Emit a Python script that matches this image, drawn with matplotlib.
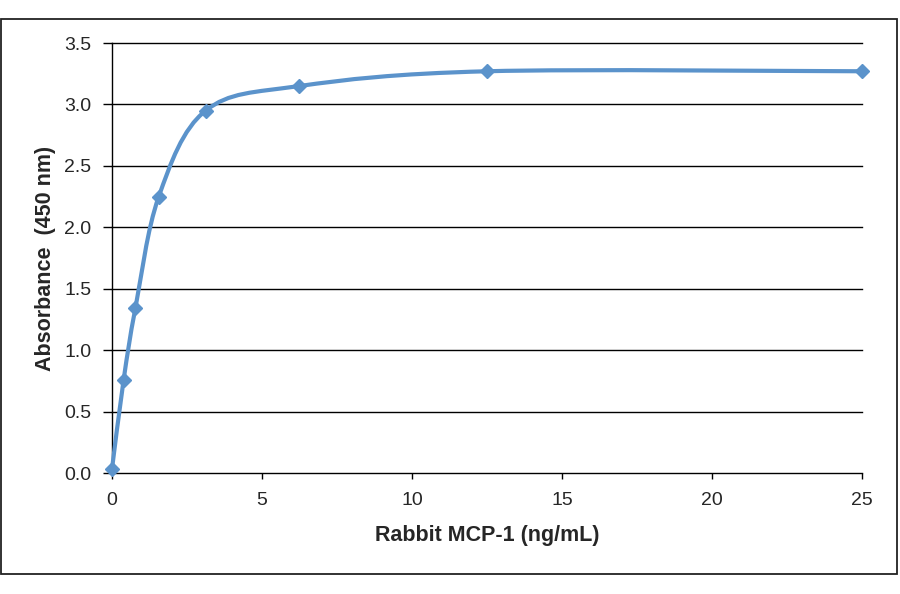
import numpy as np
import matplotlib
matplotlib.use("Agg")
import matplotlib.pyplot as plt
from matplotlib.path import Path
from matplotlib.patches import PathPatch, Rectangle

# Data
conc = [0.0, 0.39, 0.78, 1.56, 3.125, 6.25, 12.5, 25.0]
absorb = [0.03, 0.76, 1.34, 2.25, 2.95, 3.15, 3.27, 3.27]
xticks = [0, 5, 10, 15, 20, 25]
yticks = [0.0, 0.5, 1.0, 1.5, 2.0, 2.5, 3.0, 3.5]
xlabel = "Rabbit MCP-1 (ng/mL)"
ylabel = "Absorbance  (450 nm)"

LINE_COLOR = "#5B93CB"
TEXT_COLOR = "#262626"

plt.rcParams['font.family'] = ['Liberation Sans', 'DejaVu Sans']

fig = plt.figure(figsize=(9, 5.94), dpi=100)
# outer chart border
fig.patches.append(Rectangle((0.0015, 0.0337), 0.9955, 0.934, transform=fig.transFigure,
                             fill=False, edgecolor="#222222", linewidth=1.3))

ax = fig.add_axes([0.1244, 0.2037, 0.8334, 0.7239])
ax.set_xlim(0, 25)
ax.set_ylim(0, 3.5)

# horizontal gridlines
for yv in yticks:
    ax.axhline(yv, color="black", linewidth=1.0, zorder=1, clip_on=False)

# Excel-style smoothed line (cubic Bezier, Catmull-Rom control points)
pts = np.column_stack([conc, absorb])
n = len(pts)
verts = [tuple(pts[0])]
codes = [Path.MOVETO]
for i in range(n - 1):
    p0 = pts[i - 1] if i > 0 else pts[i]
    p1 = pts[i]
    p2 = pts[i + 1]
    p3 = pts[i + 2] if i + 2 < n else pts[i + 1]
    c1 = p1 + (p2 - p0) / 6.0
    c2 = p2 - (p3 - p1) / 6.0
    verts += [tuple(c1), tuple(c2), tuple(p2)]
    codes += [Path.CURVE4] * 3
ax.add_patch(PathPatch(Path(verts, codes), facecolor="none", edgecolor=LINE_COLOR,
                       linewidth=3.0, zorder=3, capstyle="round", joinstyle="round",
                       clip_on=False))
ax.plot(conc, absorb, linestyle="none", marker="D", markersize=7.5,
        color=LINE_COLOR, zorder=4, clip_on=False)

for s in ["top", "right", "bottom"]:
    ax.spines[s].set_visible(False)
ax.spines["left"].set_color("black")
ax.spines["left"].set_linewidth(1.0)

ax.set_xticks(xticks)
ax.set_yticks(yticks)
ax.set_yticklabels([f"{v:.1f}" for v in yticks])
ax.tick_params(axis="x", direction="out", length=4, width=1, color="black",
               labelsize=14, labelcolor=TEXT_COLOR, pad=10)
ax.tick_params(axis="y", direction="out", length=6.5, width=1, color="black",
               labelsize=14, labelcolor=TEXT_COLOR, pad=8.5)

ax.set_xlabel(xlabel, fontsize=15.5, fontweight="bold", color=TEXT_COLOR, labelpad=11)
ax.set_ylabel(ylabel, fontsize=15.5, fontweight="bold", color=TEXT_COLOR, labelpad=6)

fig.savefig("out.png", dpi=100)
